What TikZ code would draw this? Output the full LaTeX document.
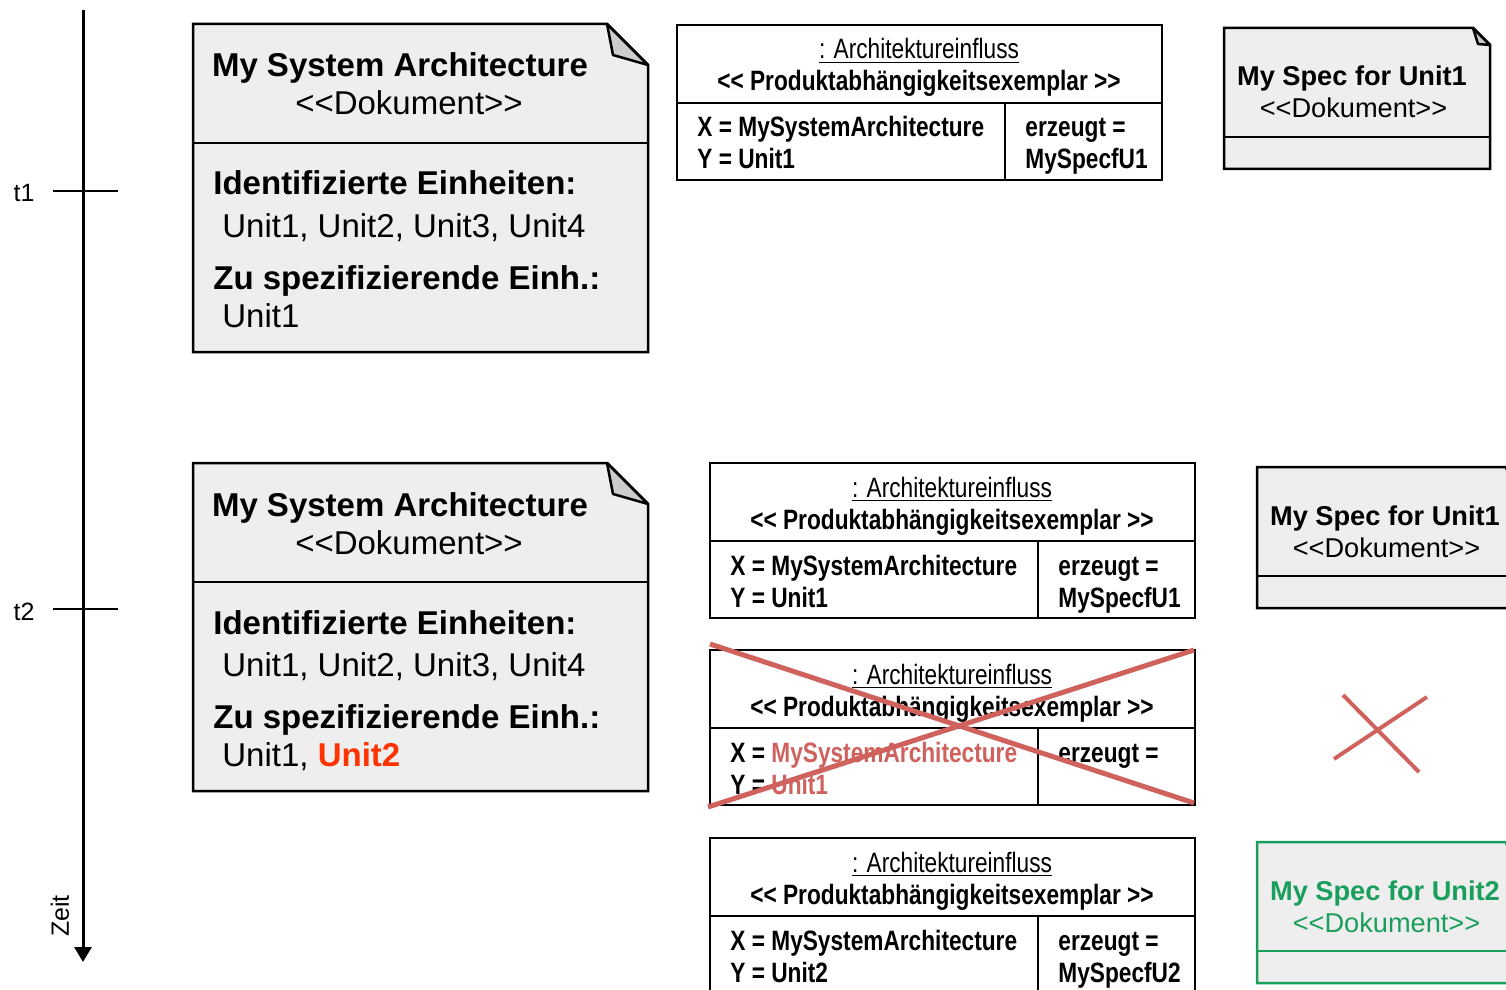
\documentclass[tikz,border=0pt]{standalone}
\usepackage{fontspec}
\setmainfont{Liberation Sans}[Ligatures=TeXOff]
\newfontfamily\narrowfont{Liberation Sans}[FakeStretch=0.81]
\usetikzlibrary{arrows.meta,positioning}

\definecolor{docgray}{HTML}{EEEEEE}
\definecolor{foldgray}{HTML}{CCCCCC}
\definecolor{crossred}{HTML}{D0625E}
\definecolor{specgreen}{HTML}{1A9E5C}
\definecolor{newred}{HTML}{FF3300}

\begin{document}
\begin{tikzpicture}[x=0.5pt,y=-0.5pt,>={Triangle[length=7.5pt,width=8.5pt]}]
	\tikzstyle{box} = [draw, line width=1.25pt, fill=docgray]
	\tikzstyle{archbox} = [draw, line width=1.25pt, fill=white]
	\tikzstyle{fold} = [draw, line width=1.25pt, fill=foldgray, line join=round]
	\tikzstyle{sep} = [line width=1.25pt]
	\tikzstyle{doctitle} = [inner sep=0pt, font=\bfseries\fontsize{16.5}{19}\selectfont]
	\tikzstyle{doctext} = [inner sep=0pt, font=\fontsize{16.5}{19}\selectfont]
	\tikzstyle{spectitle} = [inner sep=0pt, font=\bfseries\fontsize{13.6}{16}\selectfont]
	\tikzstyle{spectext} = [inner sep=0pt, font=\fontsize{13.6}{16}\selectfont]
	\tikzstyle{archtitle} = [inner sep=0pt, font=\narrowfont\bfseries\fontsize{14}{16}\selectfont]
	\tikzstyle{archtext} = [inner sep=0pt, font=\narrowfont\fontsize{14}{16}\selectfont]
	\tikzstyle{cross} = [draw=crossred, line width=2.5pt]
	\tikzstyle{timelbl} = [inner sep=0pt, font=\fontsize{12.5}{15}\selectfont]

	\path[use as bounding box] (0,0) rectangle (1506,990);
	\clip (0,0) rectangle (1506,990);

	% time axis
	\coordinate (ztop) at (83,10);
	\coordinate (zend) at (83,962);
	\draw[->, line width=1.5pt] (ztop) -- (zend);
	\coordinate (t1a) at (53,191);
	\coordinate (t1b) at (118,191);
	\coordinate (t2a) at (53,609);
	\coordinate (t2b) at (118,609);
	\draw[line width=1pt] (t1a) -- (t1b);
	\draw[line width=1pt] (t2a) -- (t2b);
	\node[timelbl, anchor=base] (t1lbl) at (24,202) {t1};
	\node[timelbl, anchor=base] (t2lbl) at (24,620) {t2};
	\node[timelbl, rotate=90] (zeitlbl) at (60,916) {Zeit};

	% architecture document at t1
	\begin{scope}[shift={(193,24)}]
		\draw[box] (0,0) -- (414,0) -- (455,41) -- (455,328) -- (0,328) -- cycle;
		\draw[fold] (414,0) -- (420,31) -- (455,41) -- cycle;
		\draw[sep] (0,119) -- (455,119);
		\node[doctitle, anchor=base] (sys1name) at (207,53) {My System Architecture};
		\node[doctext, anchor=base] (sys1type) at (216,91) {<<Dokument>>};
		\node[doctitle, anchor=base west] (sys1idhead) at (20,171) {Identifizierte Einheiten:};
		\node[doctext, anchor=base west] (sys1idlist) at (29,213) {Unit1, Unit2, Unit3, Unit4};
		\node[doctitle, anchor=base west] (sys1sphead) at (20,265) {Zu spezifizierende Einh.:};
		\node[doctext, anchor=base west] (sys1splist) at (29,303) {Unit1};
	\end{scope}

	% architecture document at t2
	\begin{scope}[shift={(193,463)}]
		\draw[box] (0,0) -- (414,0) -- (455,41) -- (455,328) -- (0,328) -- cycle;
		\draw[fold] (414,0) -- (420,31) -- (455,41) -- cycle;
		\draw[sep] (0,119) -- (455,119);
		\node[doctitle, anchor=base] (sys2name) at (207,53) {My System Architecture};
		\node[doctext, anchor=base] (sys2type) at (216,91) {<<Dokument>>};
		\node[doctitle, anchor=base west] (sys2idhead) at (20,171) {Identifizierte Einheiten:};
		\node[doctext, anchor=base west] (sys2idlist) at (29,213) {Unit1, Unit2, Unit3, Unit4};
		\node[doctitle, anchor=base west] (sys2sphead) at (20,265) {Zu spezifizierende Einh.:};
		\node[doctext, anchor=base west] (sys2splist) at (29,303) {Unit1, {\color{newred}\bfseries Unit2}};
	\end{scope}

	% influence instances
	\begin{scope}[shift={(677,25)}]
		\draw[archbox] (0,0) rectangle (485,155);
		\draw[sep] (0,78) -- (485,78);
		\draw[sep] (328,78) -- (328,155);
		\node[archtext, anchor=base] (arch1name) at (242,34) {\underline{: Architektureinfluss}};
		\node[archtitle, anchor=base] (arch1type) at (242,66) {<< Produktabhängigkeitsexemplar >>};
		\node[archtitle, anchor=base west] (arch1x) at (20,112) {X = MySystemArchitecture};
		\node[archtitle, anchor=base west] (arch1y) at (20,144) {Y = Unit1};
		\node[archtitle, anchor=base west] (arch1out) at (348,112) {erzeugt =};
		\node[archtitle, anchor=base west] (arch1spec) at (348,144) {MySpecfU1};
	\end{scope}

	\begin{scope}[shift={(710,463)}]
		\draw[archbox] (0,0) rectangle (485,155);
		\draw[sep] (0,78) -- (485,78);
		\draw[sep] (328,78) -- (328,155);
		\node[archtext, anchor=base] (arch2name) at (242,34) {\underline{: Architektureinfluss}};
		\node[archtitle, anchor=base] (arch2type) at (242,66) {<< Produktabhängigkeitsexemplar >>};
		\node[archtitle, anchor=base west] (arch2x) at (20,112) {X = MySystemArchitecture};
		\node[archtitle, anchor=base west] (arch2y) at (20,144) {Y = Unit1};
		\node[archtitle, anchor=base west] (arch2out) at (348,112) {erzeugt =};
		\node[archtitle, anchor=base west] (arch2spec) at (348,144) {MySpecfU1};
	\end{scope}

	\begin{scope}[shift={(710,650)}]
		\draw[archbox] (0,0) rectangle (485,155);
		\draw[sep] (0,78) -- (485,78);
		\draw[sep] (328,78) -- (328,155);
		\node[archtext, anchor=base] (arch3name) at (242,34) {\underline{: Architektureinfluss}};
		\node[archtitle, anchor=base] (arch3type) at (242,66) {<< Produktabhängigkeitsexemplar >>};
		\node[archtitle, anchor=base west] (arch3x) at (20,112) {X = {\color{crossred}MySystemArchitecture}};
		\node[archtitle, anchor=base west] (arch3y) at (20,144) {Y = {\color{crossred}Unit1}};
		\node[archtitle, anchor=base west] (arch3out) at (348,112) {erzeugt =};
		\coordinate (x3a) at (0,-6);
		\coordinate (x3b) at (484,153);
		\coordinate (x3c) at (-2,157);
		\coordinate (x3d) at (484,0);
		\draw[cross] (x3a) -- (x3b);
		\draw[cross] (x3c) -- (x3d);
	\end{scope}

	\begin{scope}[shift={(710,838)}]
		\draw[archbox] (0,0) rectangle (485,155);
		\draw[sep] (0,78) -- (485,78);
		\draw[sep] (328,78) -- (328,155);
		\node[archtext, anchor=base] (arch4name) at (242,34) {\underline{: Architektureinfluss}};
		\node[archtitle, anchor=base] (arch4type) at (242,66) {<< Produktabhängigkeitsexemplar >>};
		\node[archtitle, anchor=base west] (arch4x) at (20,112) {X = MySystemArchitecture};
		\node[archtitle, anchor=base west] (arch4y) at (20,144) {Y = Unit2};
		\node[archtitle, anchor=base west] (arch4out) at (348,112) {erzeugt =};
		\node[archtitle, anchor=base west] (arch4spec) at (348,144) {MySpecfU2};
	\end{scope}

	% specification documents
	\begin{scope}[shift={(1224,28)}]
		\draw[box] (0,0) -- (249,0) -- (266,17) -- (266,141) -- (0,141) -- cycle;
		\draw[fold] (249,0) -- (254,16) -- (266,17) -- cycle;
		\draw[sep] (0,109) -- (266,109);
		\node[spectitle, anchor=base] (spec1name) at (128,58) {My Spec for Unit1};
		\node[spectext, anchor=base] (spec1type) at (129.5,90) {<<Dokument>>};
	\end{scope}

	\begin{scope}[shift={(1257,467)}]
		\draw[box] (0,0) -- (249,0) -- (266,17) -- (266,141) -- (0,141) -- cycle;
		\draw[fold] (249,0) -- (254,16) -- (266,17) -- cycle;
		\draw[sep] (0,109) -- (266,109);
		\node[spectitle, anchor=base] (spec2name) at (128,58) {My Spec for Unit1};
		\node[spectext, anchor=base] (spec2type) at (129.5,90) {<<Dokument>>};
	\end{scope}

	\coordinate (xsa) at (1343,695);
	\coordinate (xsb) at (1419,772);
	\coordinate (xsc) at (1334,759);
	\coordinate (xsd) at (1427,697);
	\draw[cross, line width=2pt] (xsa) -- (xsb);
	\draw[cross, line width=2pt] (xsc) -- (xsd);

	\begin{scope}[shift={(1257,842)}, draw=specgreen, text=specgreen]
		\draw[box, draw=specgreen] (0,0) -- (249,0) -- (266,17) -- (266,141) -- (0,141) -- cycle;
		\draw[fold, draw=specgreen] (249,0) -- (254,16) -- (266,17) -- cycle;
		\draw[sep, draw=specgreen] (0,109) -- (266,109);
		\node[spectitle, anchor=base] (spec3name) at (128,58) {My Spec for Unit2};
		\node[spectext, anchor=base] (spec3type) at (129.5,90) {<<Dokument>>};
	\end{scope}
\end{tikzpicture}
\end{document}
